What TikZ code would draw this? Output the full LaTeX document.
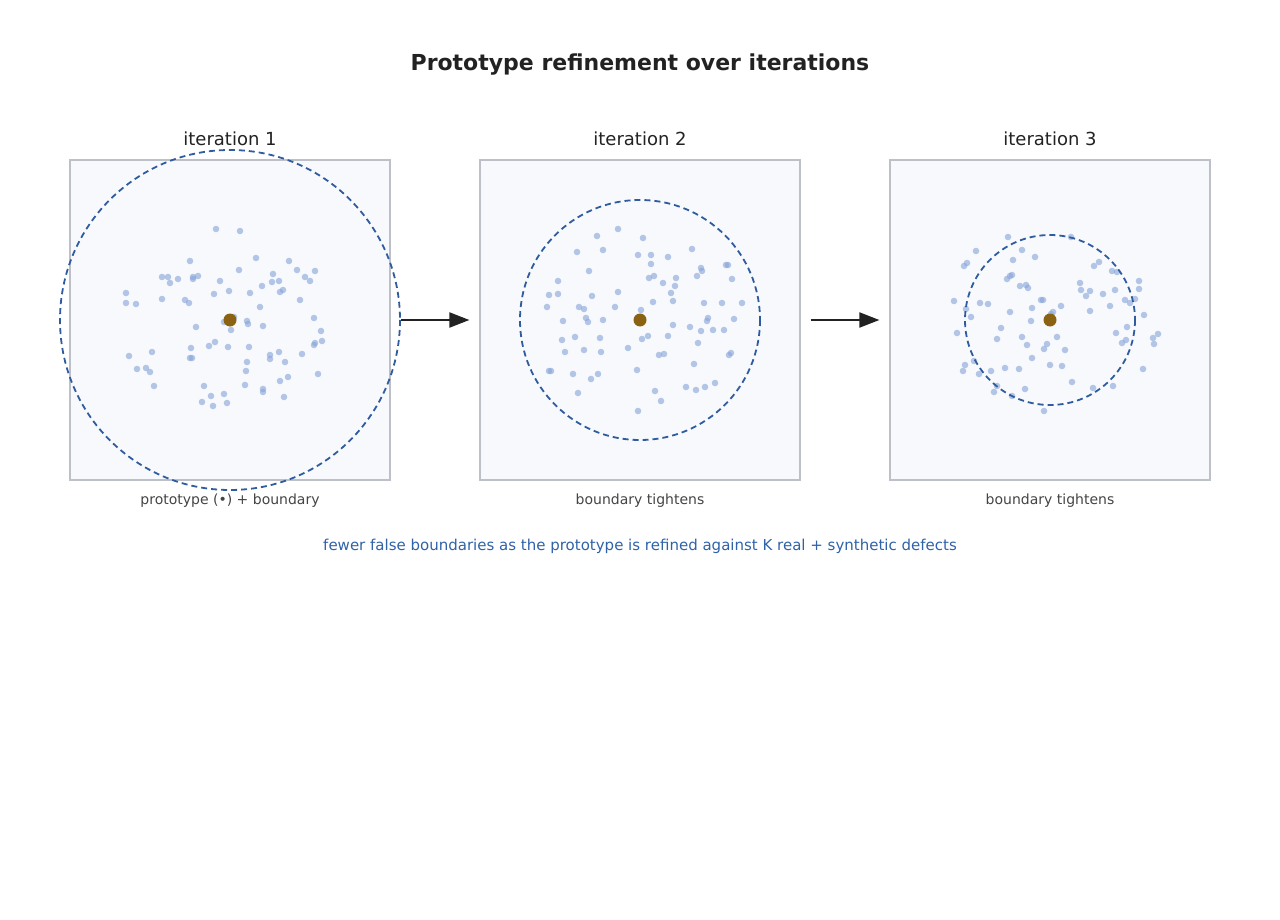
\documentclass[tikz,border=0pt]{standalone}
\usepackage{tikz}
\usetikzlibrary{arrows.meta}
\usepackage{xcolor}
\usepackage{fontspec}
\setmainfont{DejaVu Sans}

\definecolor{panelfill}{HTML}{F7F9FC}
\definecolor{panelline}{HTML}{BDC0C6}
\definecolor{ringblue}{HTML}{2F5C9E}
\definecolor{dotblue}{HTML}{86A3D8}
\definecolor{protobrown}{HTML}{8A6212}
\definecolor{titleink}{HTML}{222222}
\definecolor{captiongray}{HTML}{444444}
\definecolor{notblue}{HTML}{2F62A8}

\begin{document}
\begin{tikzpicture}[x=1pt,y=-1pt]
    \useasboundingbox (0,0) rectangle (1280,920);

    % title and headings
    \node[text=titleink] (title) at (640,65) {\fontsize{22}{26}\selectfont\bfseries Prototype refinement over iterations};
    \begin{scope}[every node/.style={text=titleink,font=\fontsize{18}{21}\selectfont}]
      \node (h1) at (230,139) {iteration 1};
      \node (h2) at (640,139) {iteration 2};
      \node (h3) at (1050,139) {iteration 3};
    \end{scope}

    % panels
    \begin{scope}[every node/.style={rectangle,draw=panelline,fill=panelfill,line width=1.2pt,
        minimum width=320pt,minimum height=320pt,inner sep=0pt}]
      \node (p1) at (230,320) {};
      \node (p2) at (640,320) {};
      \node (p3) at (1050,320) {};
    \end{scope}

    % samples
    \begin{scope}[fill=dotblue,fill opacity=0.6]
      \foreach \x/\y in {216/229,240/231,190/261,256/258,289/261,239/270,297/270,315/271,
          162/277,168/277,178/279,170/283,193/277,198/276,193/279,220/281,273/274,305/277,
          310/281,272/282,279/281,262/286,283/290,280/292,126/293,126/303,136/304,162/299,
          185/300,189/303,214/294,229/291,250/293,300/300,260/307,224/322,234/317,247/321,
          248/324,314/318,196/327,231/330,263/326,321/331,322/341,315/343,314/345,215/342,
          209/346,191/348,228/347,249/347,129/356,152/352,190/358,192/358,270/355,270/359,
          279/352,302/354,247/362,285/362,137/369,146/368,150/372,246/371,318/374,288/377,
          280/381,154/386,204/386,245/385,263/389,263/392,224/394,211/396,284/397,202/402,
          227/403,213/406}
        \fill (\x,\y) circle (3.3);
      \foreach \x/\y in {618/229,597/236,643/238,577/252,603/250,638/255,651/255,668/257,
          692/249,651/264,589/271,701/268,702/271,726/265,728/265,649/278,654/276,676/278,
          697/276,732/279,558/281,663/283,675/286,549/295,558/294,592/296,618/292,671/293,
          673/301,653/302,704/303,722/303,742/303,547/307,579/307,584/309,615/307,641/310,
          586/318,588/322,603/320,563/321,708/318,707/321,734/319,673/325,690/327,701/331,
          713/330,724/330,642/339,648/336,668/336,575/337,562/340,600/338,698/343,565/352,
          584/350,601/352,628/348,659/355,664/354,729/355,731/353,694/364,637/370,549/371,
          551/371,573/374,598/374,591/379,686/387,696/390,705/387,715/383,655/391,578/393,
          661/401,638/411}
        \fill (\x,\y) circle (3.3);
      \foreach \x/\y in {1008/237,1071/237,976/251,1022/250,1035/257,1013/260,967/263,964/266,
          1099/262,1094/266,1112/271,1117/272,1012/275,1010/276,1007/279,1139/281,1139/289,
          1080/283,1081/290,1090/291,1020/286,1026/285,1028/288,1086/296,1103/294,1115/290,
          1041/300,1043/300,954/301,980/303,988/304,1125/300,1130/303,1135/299,1032/308,
          1061/306,1110/306,966/309,1010/312,1090/311,971/317,1053/312,1051/314,1144/315,
          1031/321,1001/328,1127/327,957/333,1116/333,1158/334,1153/338,1154/344,1022/337,
          1057/337,997/339,1027/345,1047/344,1044/349,1065/350,1122/343,1126/340,1032/358,
          974/361,965/365,963/371,1050/365,1062/366,1005/368,1019/369,991/371,979/374,
          1143/369,1072/382,1113/386,1093/388,997/386,1025/389,994/392,1012/396,1044/411}
        \fill (\x,\y) circle (3.3);
    \end{scope}

    % boundaries
    \begin{scope}[draw=ringblue,line width=1.8pt,dash pattern=on 6pt off 4pt]
      \draw (p1.center) circle (170);
      \draw (p2.center) circle (120);
      \draw (p3.center) circle (85);
    \end{scope}

    % prototypes
    \begin{scope}[every node/.style={circle,fill=protobrown,minimum size=13pt,inner sep=0pt}]
      \node (c1) at (p1.center) {};
      \node (c2) at (p2.center) {};
      \node (c3) at (p3.center) {};
    \end{scope}

    % steps between panels
    \begin{scope}[>={Triangle[length=20pt,width=15pt]},
        every edge/.style={draw=titleink,line width=2pt,shorten <=10pt,shorten >=10pt}]
      \path [->] (p1.east) edge (p2.west);
      \path [->] (p2.east) edge (p3.west);
    \end{scope}

    % captions
    \begin{scope}[every node/.style={text=captiongray,font=\fontsize{14}{17}\selectfont}]
      \node (s1) at (230,501) {prototype (•) + boundary};
      \node (s2) at (640,501) {boundary tightens};
      \node (s3) at (1050,501) {boundary tightens};
    \end{scope}
    \node[text=notblue,font=\fontsize{15}{18}\selectfont] (note) at (640,546)
      {fewer false boundaries as the prototype is refined against K real + synthetic defects};
  \end{tikzpicture}
\end{document}
